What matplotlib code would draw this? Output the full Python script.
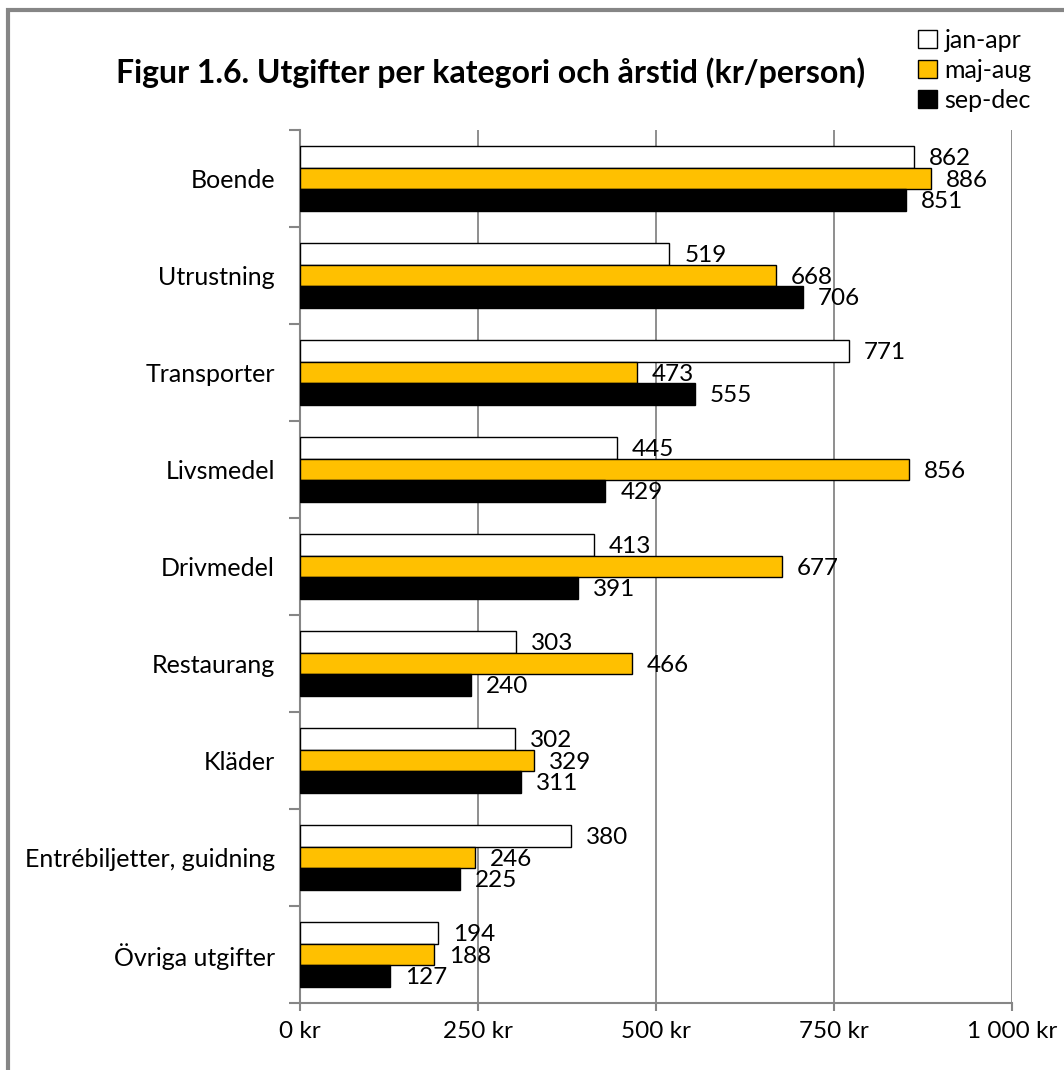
import matplotlib.pyplot as plt
import matplotlib.patches as mpatches
import numpy as np

plt.rcParams['font.family'] = ['Lato', 'DejaVu Sans']

categories = ['Boende', 'Utrustning', 'Transporter', 'Livsmedel', 'Drivmedel',
              'Restaurang', 'Kläder', 'Entrébiljetter, guidning', 'Övriga utgifter']
jan_apr = [862, 519, 771, 445, 413, 303, 302, 380, 194]
maj_aug = [886, 668, 473, 856, 677, 466, 329, 246, 188]
sep_dec = [851, 706, 555, 429, 391, 240, 311, 225, 127]
series_labels = ['jan-apr', 'maj-aug', 'sep-dec']
xticks = [0, 250, 500, 750, 1000]
xtick_labels = ['0 kr', '250 kr', '500 kr', '750 kr', '1 000 kr']

fig = plt.figure(figsize=(10.64, 10.70), dpi=100)
ax = fig.add_axes([0.282, 0.0626, 0.669, 0.8159])

# frame around the whole chart (left + top visible)
fig.patches.append(mpatches.Rectangle((0.0075, -0.05), 1.2, 1.0406, transform=fig.transFigure,
                                      fill=False, edgecolor='#868686', linewidth=3))

y = np.arange(len(categories))
h = 0.222
colors = ['white', '#FFC000', 'black']
data = [jan_apr, maj_aug, sep_dec]
for k, (vals, col) in enumerate(zip(data, colors)):
    pos = y + (k - 1) * h
    ax.barh(pos, vals, height=h, color=col, edgecolor='black', linewidth=1, zorder=3)
    for p, v in zip(pos, vals):
        ax.text(v + 21, p + 0.02, str(v), va='center', ha='left', fontsize=17.5, zorder=4)

ax.set_ylim(len(categories) - 0.5, -0.5)
ax.set_xlim(0, 1000)
ax.set_yticks(y)
ax.set_yticklabels(categories, fontsize=18)
ax.tick_params(axis='y', length=0, pad=18)
ax.set_yticks(np.arange(-0.5, len(categories), 1), minor=True)
ax.tick_params(axis='y', which='minor', length=8, color='#868686', width=1.5)
ax.set_xticks(xticks)
ax.set_xticklabels(xtick_labels, fontsize=17.5)
ax.tick_params(axis='x', length=6, color='#868686', width=1.5, pad=7)
ax.grid(axis='x', color='#868686', linewidth=1.3, zorder=0)

for s in ['top', 'right']:
    ax.spines[s].set_visible(False)
for s in ['left', 'bottom']:
    ax.spines[s].set_color('#868686')
    ax.spines[s].set_linewidth(1.5)

fig.text(0.4615, 0.932, 'Figur 1.6. Utgifter per kategori och årstid (kr/person)',
         ha='center', va='center', fontsize=23, fontweight='bold')

handles = [mpatches.Patch(facecolor=c, edgecolor='black', linewidth=1) for c in colors]
fig.legend(handles, series_labels, loc='upper left', bbox_to_anchor=(0.863, 0.973),
           frameon=False, fontsize=18, handlelength=0.75, handleheight=0.75,
           handletextpad=0.3, labelspacing=0.28, borderaxespad=0.0, borderpad=0.0)

plt.savefig('out.png', dpi=100)
plt.close()
